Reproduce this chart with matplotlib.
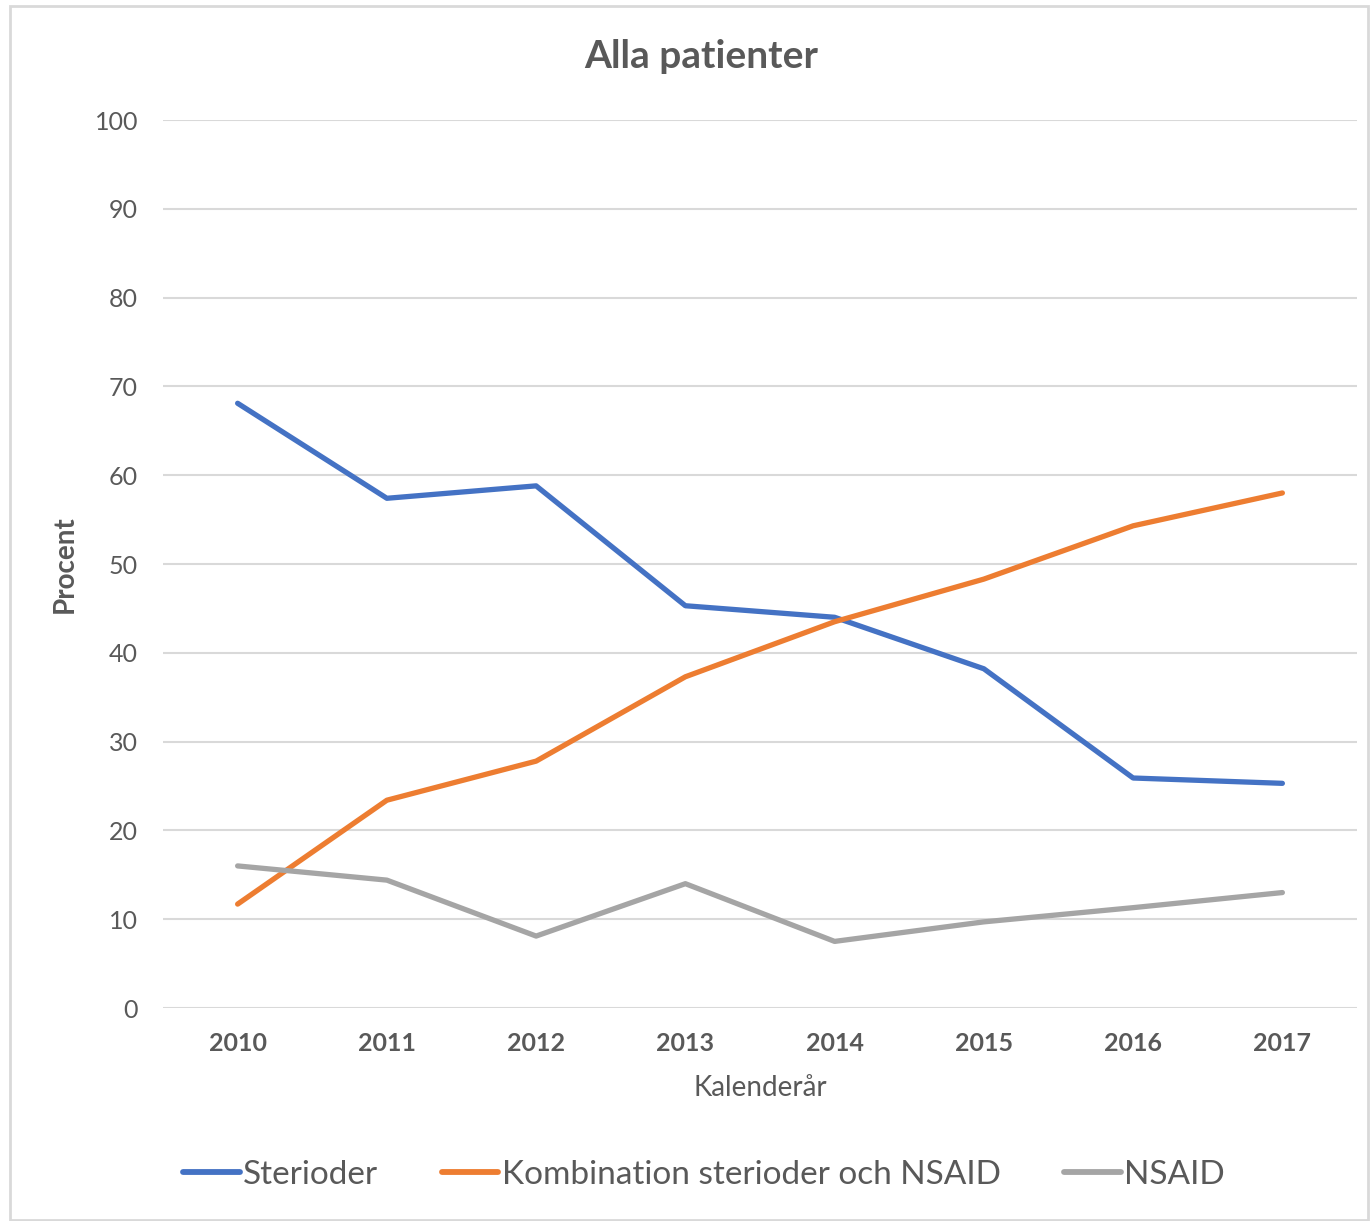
import matplotlib
matplotlib.use("Agg")
import matplotlib.pyplot as plt
from matplotlib.patches import Rectangle

years = ["2010", "2011", "2012", "2013", "2014", "2015", "2016", "2017"]
sterioder = [68.1, 57.4, 58.8, 45.3, 44.0, 38.2, 25.9, 25.3]
kombination = [11.7, 23.4, 27.8, 37.3, 43.5, 48.3, 54.3, 58.0]
nsaid = [16.0, 14.4, 8.1, 14.0, 7.5, 9.7, 11.3, 13.0]
series_names = ["Sterioder", "Kombination sterioder och NSAID", "NSAID"]
colors = ["#4472C4", "#ED7D31", "#A5A5A5"]
y_ticks = [0, 10, 20, 30, 40, 50, 60, 70, 80, 90, 100]

TEXT = "#595959"
plt.rcParams["font.family"] = ["Lato", "DejaVu Sans"]

fig = plt.figure(figsize=(13.71, 12.21), dpi=100)
fig.patches.append(Rectangle((10 / 1371, 1 / 1221), 1358 / 1371, 1214 / 1221,
                             transform=fig.transFigure, fill=False,
                             edgecolor="#D9D9D9", linewidth=2))
ax = fig.add_axes([163 / 1371, 213 / 1221, 1194 / 1371, 888 / 1221])

x = list(range(len(years)))
for vals, name, c in zip([sterioder, kombination, nsaid], series_names, colors):
    ax.plot(x, vals, color=c, linewidth=3.8, label=name, solid_capstyle="round")

ax.set_xlim(-0.5, len(years) - 0.5)
ax.set_ylim(0, 100)
ax.set_yticks(y_ticks)
ax.set_xticks(x)
ax.set_xticklabels(years, fontweight="bold")
ax.tick_params(axis="y", length=0, labelsize=18, labelcolor=TEXT, pad=18)
ax.tick_params(axis="x", length=0, labelsize=18, labelcolor=TEXT, pad=17)
ax.grid(axis="y", color="#D9D9D9", linewidth=1.5)
ax.set_axisbelow(True)
for s in ax.spines.values():
    s.set_visible(False)

fig.text(701 / 1371, 1 - 57 / 1221, "Alla patienter", fontsize=28, fontweight="bold",
         color=TEXT, ha="center", va="center")
ax.set_ylabel("Procent", fontsize=20, fontweight="bold", color=TEXT, labelpad=12)
ax.set_xlabel("Kalenderår", fontsize=20, color=TEXT, labelpad=15)

leg = fig.legend(loc="center", bbox_to_anchor=(704 / 1371, 1 - 1175 / 1221), ncol=3,
                 frameon=False, fontsize=24, handlelength=1.7, handletextpad=0.1,
                 columnspacing=1.9)
for t in leg.get_texts():
    t.set_color(TEXT)
for h in leg.get_lines():
    h.set_linewidth(4.2)
    h.set_solid_capstyle("round")

fig.savefig("out.png", dpi=100)
